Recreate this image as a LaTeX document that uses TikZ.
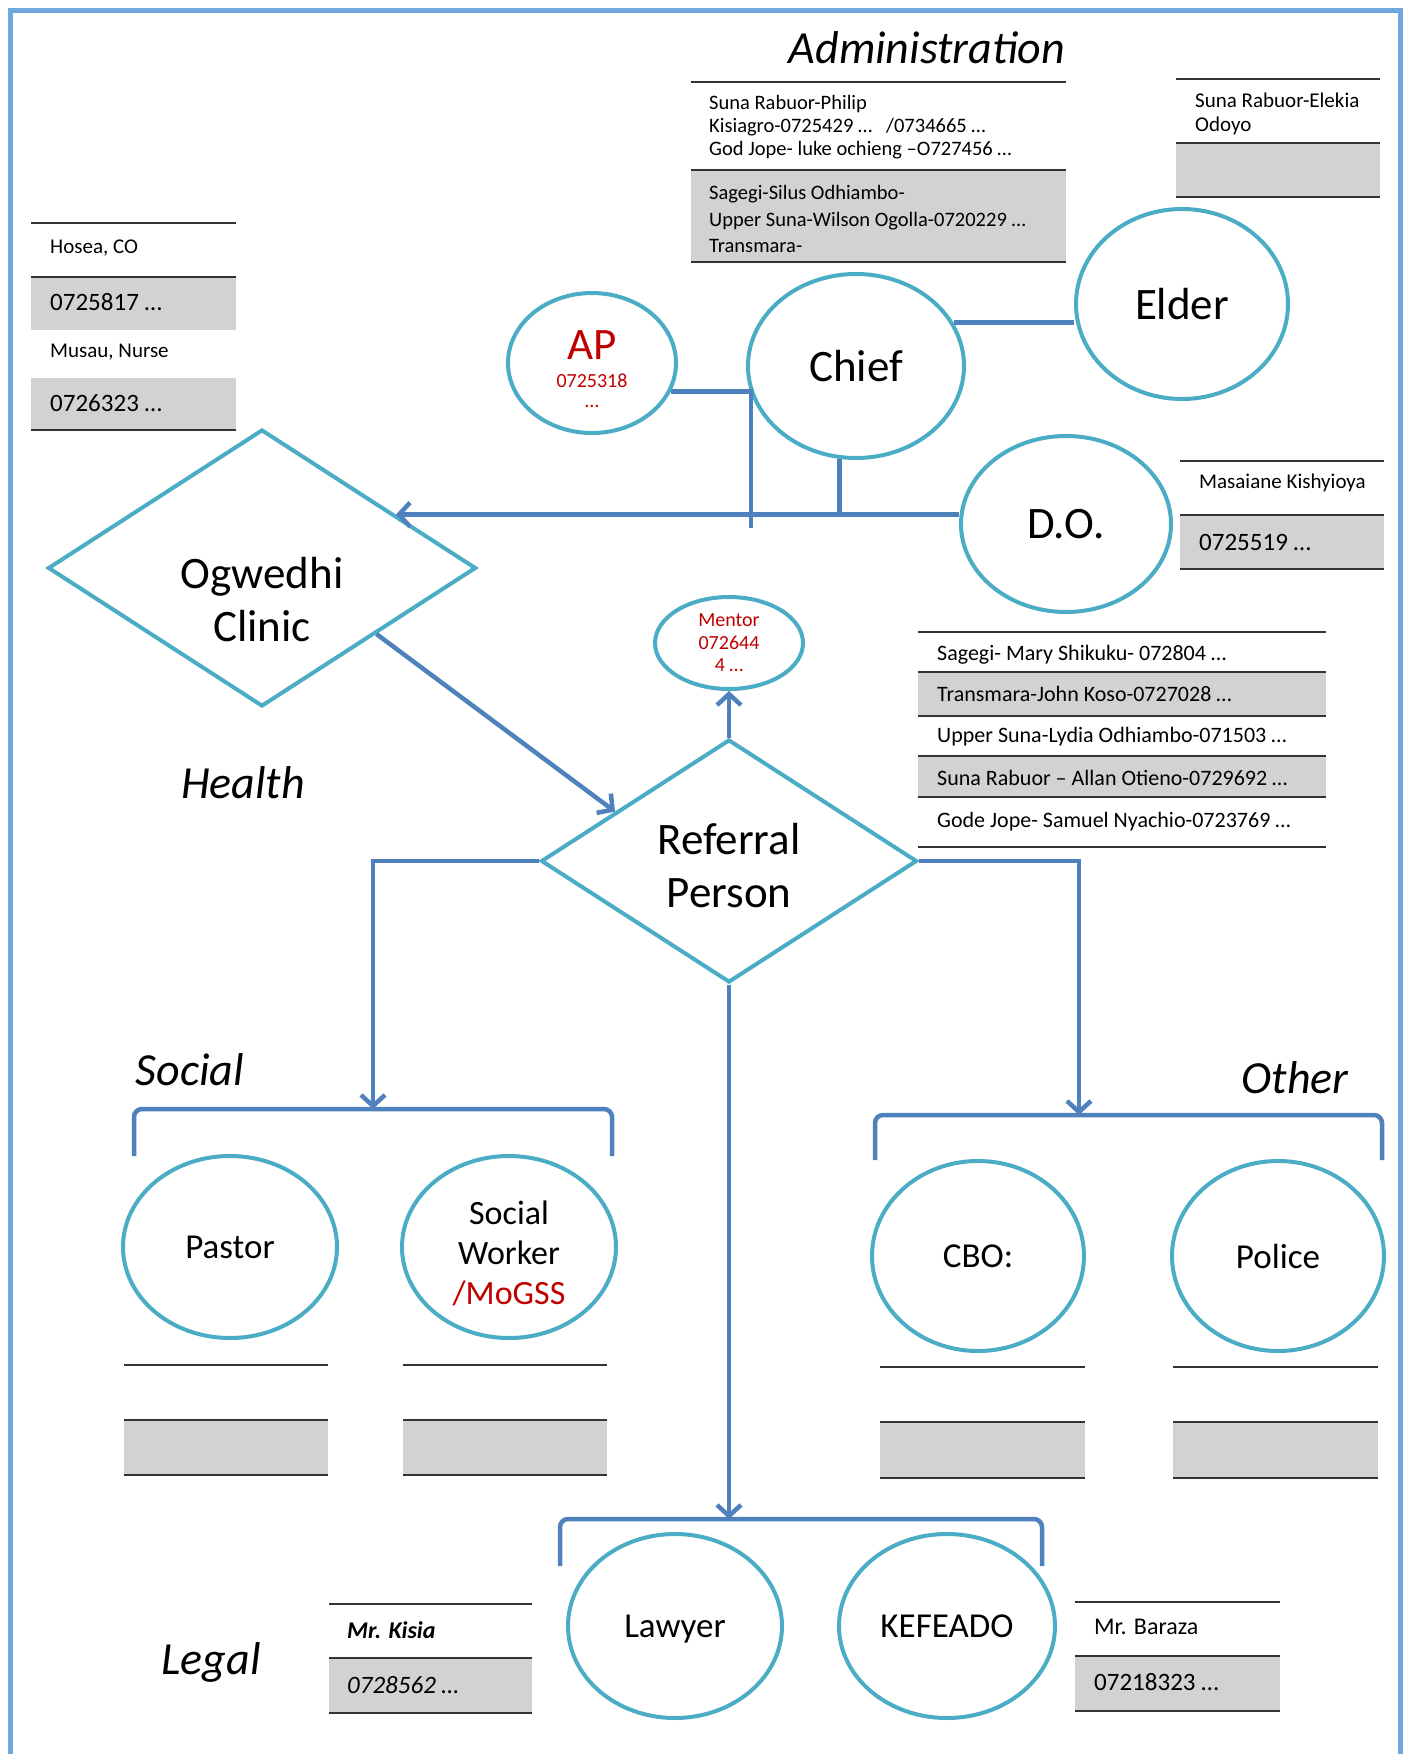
\documentclass[tikz,border=0pt]{standalone}
\usepackage{fontspec}
\setmainfont{Carlito}
\usetikzlibrary{arrows.meta}
\usetikzlibrary{calc}
\usetikzlibrary{shapes.geometric}

\definecolor{framecol}{RGB}{111,168,220}
\definecolor{ringcol}{RGB}{75,172,198}
\definecolor{linkcol}{RGB}{79,129,189}
\definecolor{bandcol}{RGB}{210,210,210}
\definecolor{redcol}{RGB}{192,0,0}

\tikzset{
  ring/.style={ellipse, draw=ringcol, line width=4pt, fill=white, inner sep=0pt},
  rhombus/.style={diamond, draw=ringcol, line width=4pt, fill=white, inner sep=0pt},
  link/.style={draw=linkcol, line width=4.5pt},
  tip/.style={-{Straight Barb[length=11pt, width=24pt]}},
  rule/.style={draw=black!80, line width=2.5pt},
  band/.style={fill=bandcol},
  entry/.style={anchor=west, inner sep=0pt, font=\fontsize{21}{24}\selectfont},
  phone/.style={anchor=west, inner sep=0pt, font=\fontsize{25}{28}\selectfont},
  big/.style={font=\fontsize{45}{53}\selectfont},
  mid/.style={font=\fontsize{35}{40}\selectfont},
  heading/.style={font=\fontsize{46}{52}\selectfont\itshape},
}

\begin{document}
\begin{tikzpicture}[x=1pt, y=-1pt]
\useasboundingbox (0,0) rectangle (1408,1754);
\draw[framecol, line width=5pt] (10.5,10.5) rectangle (1400.5,1790);

% headings
\node[heading] (admin) at (927,48) {Administration};
\node[heading] (health) at (243,783) {Health};
\node[heading] (social) at (190,1070) {Social};
\node[heading] (other) at (1295,1078) {Other};
\node[heading] (legal) at (211,1662) {Legal};

% administration tables
\fill[band] (691,170) rectangle (1066,262);
\foreach \y in {82,170,262} \draw[rule] (691,\y) -- (1066,\y);
\node[entry, align=left, font=\fontsize{20.5}{23}\selectfont] (chiefsnorth) at (709,127)
  {Suna Rabuor-Philip\\Kisiagro-0725429 …\hspace{14pt}/0734665 …\\God Jope- luke ochieng –O727456 …};
\node[entry, align=left, font=\fontsize{20.5}{26.5}\selectfont] (chiefssouth) at (709,219)
  {Sagegi-Silus Odhiambo-\\Upper Suna-Wilson Ogolla-0720229 …\\Transmara-};
\fill[band] (1176,143) rectangle (1380,197);
\foreach \y in {79,143,197} \draw[rule] (1176,\y) -- (1380,\y);
\node[entry, align=left] (eldername) at (1195,114) {Suna Rabuor-Elekia\\Odoyo};
\fill[band] (1180,515) rectangle (1384,569);
\foreach \y in {461,515,569} \draw[rule] (1180,\y) -- (1384,\y);
\node[entry] (doname) at (1199,483) {Masaiane Kishyioya};
\node[phone] (dophone) at (1199,542) {0725519 …};

% health table
\fill[band] (31,277) rectangle (236,330);
\fill[band] (31,378) rectangle (236,430);
\foreach \y in {223,277,430} \draw[rule] (31,\y) -- (236,\y);
\node[entry] (coname) at (50,248) {Hosea, CO};
\node[phone] (cophone) at (50,302) {0725817 …};
\node[entry] (nursename) at (50,352) {Musau, Nurse};
\node[phone] (nursephone) at (50,403) {0726323 …};

% referral persons
\fill[band] (918,672) rectangle (1326,716);
\fill[band] (918,756) rectangle (1326,797);
\foreach \y in {632,672,716,756,797,847} \draw[rule] (918,\y) -- (1326,\y);
\node[entry, font=\fontsize{22}{24}\selectfont] (refsagegi) at (937,655) {Sagegi- Mary Shikuku- 072804 …};
\node[entry, font=\fontsize{22}{24}\selectfont] (reftransmara) at (937,694) {Transmara-John Koso-0727028 …};
\node[entry, font=\fontsize{22}{24}\selectfont] (refupper) at (937,737) {Upper Suna-Lydia Odhiambo-071503 …};
\node[entry, font=\fontsize{22}{24}\selectfont] (refrabuor) at (937,778) {Suna Rabuor – Allan Otieno-0729692 …};
\node[entry, font=\fontsize{22}{24}\selectfont] (refgode) at (937,822) {Gode Jope- Samuel Nyachio-0723769 …};

% social and other tables
\foreach \xa/\xb in {124/328,403/607} {
  \fill[band] (\xa,1420) rectangle (\xb,1475);
  \foreach \y in {1365,1420,1475} \draw[rule] (\xa,\y) -- (\xb,\y);
}
\foreach \xa/\xb in {880/1085,1173/1378} {
  \fill[band] (\xa,1422) rectangle (\xb,1478);
  \foreach \y in {1367,1422,1478} \draw[rule] (\xa,\y) -- (\xb,\y);
}

% legal tables
\fill[band] (329,1658) rectangle (532,1713);
\foreach \y in {1604,1658,1713} \draw[rule] (329,\y) -- (532,\y);
\node[phone, font=\fontsize{24}{28}\selectfont\bfseries\itshape] (lawyername) at (347,1630) {Mr. Kisia};
\node[phone, font=\fontsize{25}{28}\selectfont\itshape] (lawyerphone) at (347,1685) {0728562 …};
\fill[band] (1075,1656) rectangle (1280,1711);
\foreach \y in {1602,1656,1711} \draw[rule] (1075,\y) -- (1280,\y);
\node[phone, font=\fontsize{24}{28}\selectfont] (kefname) at (1094,1627) {Mr. Baraza};
\node[phone] (kefphone) at (1094,1682) {07218323 …};

% nodes
\node[ring, minimum width=168, minimum height=140] (AP) at (592,363) {};
\node[big, text=redcol, inner sep=0pt, text depth=0pt] (aplabel) at (592,345) {AP};
\node[text=redcol, inner sep=0pt, font=\fontsize{20}{22}\selectfont] (apphone) at (592,381) {0725318};
\node[text=redcol, inner sep=0pt, font=\fontsize{20}{22}\selectfont] (apdots) at (592,406) {…};
\node[ring, big, minimum width=216, minimum height=184] (Chief) at (856,366) {Chief};
\node[ring, big, minimum width=212, minimum height=190] (Elder) at (1182,304) {Elder};
\node[ring, big, minimum width=210, minimum height=176] (DO) at (1066,524) {D.O.};
\node[rhombus, minimum width=428, minimum height=277] (Ogw) at (262,568) {};
\node[big, align=center, inner sep=0pt] (ogwtext) at (262,600) {Ogwedhi\\Clinic};
\node[ring, text=redcol, align=center, font=\fontsize{20}{22.5}\selectfont,
  minimum width=148, minimum height=92] (Mentor) at (729,643) {Mentor\\072644\\4 …};
\node[rhombus, minimum width=376, minimum height=243] (Ref) at (729,861) {};
\node[big, align=center, inner sep=0pt] (reftext) at (729,866) {Referral\\Person};
\node[ring, mid, minimum width=214, minimum height=182] (Pastor) at (230,1247) {Pastor};
\node[ring, minimum width=214, minimum height=182] (Worker) at (509,1247) {};
\node[align=center, inner sep=0pt, font=\fontsize{34}{40}\selectfont] (workertext) at (509,1253)
  {Social\\Worker\\\textcolor{redcol}{/MoGSS}};
\node[ring, mid, minimum width=212, minimum height=190] (CBO) at (978,1256) {CBO:};
\node[ring, mid, minimum width=212, minimum height=190] (Police) at (1278,1256) {Police};
\node[ring, mid, text depth=0pt, minimum width=214, minimum height=184] (Lawyer) at (675,1626) {Lawyer};
\node[ring, mid, minimum width=216, minimum height=184] (Kefeado) at (947,1626) {KEFEADO};

% administration links
\coordinate (ogwin) at ($(Ogw.north)!0.62!(Ogw.east)$);
\coordinate (apdrop) at (751,528);
\draw[link, tip] (ogwin -| DO.west) -- (ogwin);
\draw[link] (Chief.260) -- (Chief.260 |- ogwin);
\draw[link] (AP.-20) -- (AP.-20 -| apdrop) -- (apdrop);
\draw[link] (Chief.24) -- (Chief.24 -| Elder.west);

% referral links
\draw[link, tip] ($(Ogw.east)!0.47!(Ogw.south)$) -- ($(Ref.north)!0.6!(Ref.west)$);
\draw[link, tip] (Ref.north) -- (Mentor.south);
\coordinate (socdrop) at (373,1109);
\coordinate (othdrop) at (1079,1115);
\coordinate (legdrop) at (729,1519);
\draw[link, tip] (Ref.west) -| (socdrop);
\draw[link, tip] (Ref.east) -| (othdrop);
\draw[link, tip] (Ref.south) -- (legdrop);

% brackets
\draw[link, rounded corners=8pt] (134,1156) -- (134,1109) -- (612,1109) -- (612,1156);
\draw[link, rounded corners=8pt] (875,1160) -- (875,1115) -- (1382,1115) -- (1382,1160);
\draw[link, rounded corners=8pt] (560,1566) -- (560,1519) -- (1042,1519) -- (1042,1566);
\end{tikzpicture}
\end{document}
